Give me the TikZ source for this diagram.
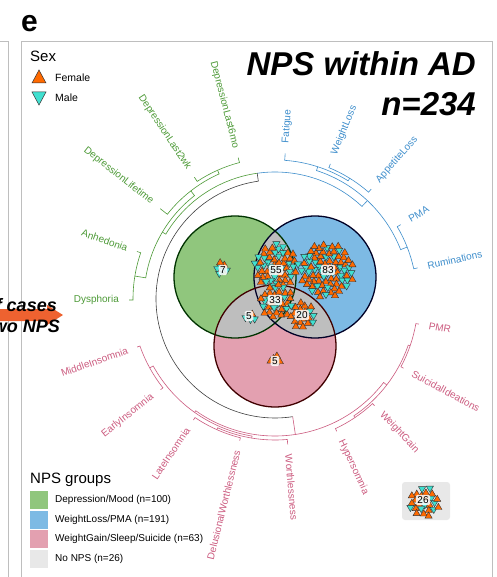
\documentclass[tikz,border=0pt]{standalone}
\usepackage{fontspec}
\setmainfont{Liberation Sans}
\usetikzlibrary{calc}

\definecolor{gtxt}{RGB}{77,154,55}
\definecolor{btxt}{RGB}{62,142,204}
\definecolor{ptxt}{RGB}{204,92,128}
\definecolor{gfill}{RGB}{144,198,125}
\definecolor{bfill}{RGB}{125,186,228}
\definecolor{pfill}{RGB}{227,160,176}
\definecolor{ifill}{RGB}{190,190,190}
\definecolor{nofill}{RGB}{232,232,232}
\definecolor{femc}{RGB}{255,106,0}
\definecolor{malc}{RGB}{64,224,208}
\definecolor{arrc}{RGB}{238,98,48}
\definecolor{framec}{RGB}{190,190,190}

\newcommand{\fs}[1]{\fontsize{#1}{#1}\selectfont}

\tikzset{
  fem/.pic={\draw[fill=femc,draw=black!80,line width=0.4pt] (-3.6,-2.6) -- (3.6,-2.6) -- (0,3.6) -- cycle;},
  mal/.pic={\draw[fill=malc,draw=black!80,line width=0.4pt] (-3.6,2.6) -- (3.6,2.6) -- (0,-3.6) -- cycle;},
  cnt/.style={fill=white,fill opacity=0.85,text opacity=1,rounded corners=1.5pt,inner sep=1.6pt,font=\fs{10}},
  lab/.style={font=\fs{10},inner sep=0pt},
  dend/.style={line width=0.6pt},
}

% triangle cluster: x, y, n, spacing, seed
\newcommand{\tcl}[5]{%
  \foreach \k in {1,...,#3}{%
    \pgfmathsetmacro{\rr}{#4*sqrt(\k-0.5)}%
    \pgfmathsetmacro{\aa}{\k*137.508+#5}%
    \pgfmathtruncatemacro{\sx}{mod(\k*37+mod(\k*\k,17)*11+#5,17)}%
    \ifnum\sx<6
      \pic at ({#1+\rr*cos(\aa)},{#2+\rr*sin(\aa)}) {mal};%
    \else
      \pic at ({#1+\rr*cos(\aa)},{#2+\rr*sin(\aa)}) {fem};%
    \fi
  }}

% merge in circular dendrogram: colour, h, a1, h1, a2, h2
\newcommand{\mrg}[6]{%
  \draw[dend,#1] (#3:#4) -- (#3:#2) arc[start angle=#3, end angle=#5, radius=#2] -- (#5:#6);}
\newcommand{\lbR}[3]{\node[lab,text=#3,rotate=#1,anchor=west] at (#1:156) {#2};}
\newcommand{\lbL}[3]{\node[lab,text=#3,rotate=#1-180,anchor=east] at (#1:156) {#2};}

\begin{document}
\begin{tikzpicture}[x=1pt,y=1pt]
\useasboundingbox (0,0) rectangle (496,-577);
\fill[white] (0,0) rectangle (496,-577);

% panel frames
\draw[framec,line width=0.9pt] (-5,-41) -- (8,-41) -- (8,-600);
\draw[framec,line width=0.9pt] (21,-600) -- (21,-41) -- (492,-41) -- (492,-600);
\node[anchor=base west,inner sep=0,font=\bfseries\fs{30}] (plabel) at (21,-32) {e};

% title
\node[anchor=base east,inner sep=0,font=\bfseries\itshape\fs{33}] (title1) at (476,-76) {NPS within AD};
\node[anchor=base east,inner sep=0,font=\bfseries\itshape\fs{33}] (title2) at (476,-116) {n=234};

% sex legend
\node[anchor=base west,inner sep=0,font=\fs{15}] (sexh) at (30,-62) {Sex};
\draw[fill=femc,draw=black!80,line width=0.5pt] (32,-83) -- (46,-83) -- (39,-70) -- cycle;
\node[anchor=base west,inner sep=0,font=\fs{10.5}] (femlab) at (55,-82) {Female};
\draw[fill=malc,draw=black!80,line width=0.5pt] (32,-92) -- (46,-92) -- (39,-105) -- cycle;
\node[anchor=base west,inner sep=0,font=\fs{10.5}] (mallab) at (55,-102) {Male};

% Venn
\fill[gfill] (235,-277) circle (61);
\fill[bfill] (315,-277) circle (61);
\fill[pfill] (275,-346) circle (61);
\begin{scope}
  \clip (235,-277) circle (61);
  \fill[ifill] (315,-277) circle (61);
  \fill[ifill] (275,-346) circle (61);
\end{scope}
\begin{scope}
  \clip (315,-277) circle (61);
  \fill[ifill] (275,-346) circle (61);
\end{scope}
\draw[line width=1.3pt,draw=green!20!black] (235,-277) circle (61);
\draw[line width=1.3pt,draw=blue!15!black] (315,-277) circle (61);
\draw[line width=1.3pt,draw=red!25!black] (275,-346) circle (61);

% dendrogram
\begin{scope}[shift={(275,-299)}]
  % green
  \mrg{gtxt}{141}{104.6}{146}{123.5}{146}
  \mrg{gtxt}{137}{141.8}{146}{114.05}{141}
  \mrg{gtxt}{142}{161}{146}{180.4}{146}
  \mrg{gtxt}{131}{127.9}{137}{170.7}{142}
  % blue
  \mrg{btxt}{142}{30.6}{146}{12.3}{146}
  \mrg{btxt}{142}{67.7}{146}{48.8}{146}
  \mrg{btxt}{139}{86}{146}{58.25}{142}
  \mrg{btxt}{135}{72.1}{139}{21.45}{142}
  % green + blue
  \draw[dend,gtxt] (149.3:131) -- (149.3:127) arc[start angle=149.3, end angle=98.05, radius=127];
  \draw[dend,btxt] (46.8:135) -- (46.8:127) arc[start angle=46.8, end angle=98.05, radius=127];
  % pink
  \mrg{ptxt}{143}{199.2}{146}{218.4}{146}
  \mrg{ptxt}{143}{236}{146}{256}{146}
  \mrg{ptxt}{141}{246}{143}{275}{146}
  \mrg{ptxt}{139}{208.8}{143}{260.5}{141}
  \mrg{ptxt}{143}{295}{146}{313}{146}
  \mrg{ptxt}{143}{331.7}{146}{350.1}{146}
  \mrg{ptxt}{141}{304}{143}{340.9}{143}
  \mrg{ptxt}{137}{234.65}{139}{322.45}{141}
  % root
  \draw[dend,black!75] (98.05:127) -- (98.05:119) arc[start angle=98.05, end angle=278.55, radius=119];
  \draw[dend,ptxt] (278.55:119) -- (278.55:137);

  % labels
  \lbL{104.6}{DepressionLast6mo}{gtxt}
  \lbL{123.5}{DepressionLast2wk}{gtxt}
  \lbL{141.8}{DepressionLifetime}{gtxt}
  \lbL{161}{Anhedonia}{gtxt}
  \lbL{180.4}{Dysphoria}{gtxt}
  \lbR{86}{Fatigue}{btxt}
  \lbR{67.7}{WeightLoss}{btxt}
  \lbR{48.8}{AppetiteLoss}{btxt}
  \lbR{30.6}{PMA}{btxt}
  \lbR{12.3}{Ruminations}{btxt}
  \lbR{-9.9}{PMR}{ptxt}
  \lbR{-28.3}{SuicidalIdeations}{ptxt}
  \lbR{-47}{WeightGain}{ptxt}
  \lbR{-65}{Hypersomnia}{ptxt}
  \lbR{-85}{Worthlessness}{ptxt}
  \lbL{256}{DelusionalWorthlessness}{ptxt}
  \lbL{236}{LateInsomnia}{ptxt}
  \lbL{218.4}{EarlyInsomnia}{ptxt}
  \lbL{199.2}{MiddleInsomnia}{ptxt}
\end{scope}

% no NPS box
\fill[nofill,rounded corners=3pt] (402,-482) rectangle (450,-520);

% triangle clusters
\tcl{222}{-268}{7}{2.6}{3}
\tcl{276}{-266}{55}{3.0}{1}
\tcl{277}{-301}{33}{3.0}{5}
\tcl{327}{-270}{83}{3.0}{2}
\tcl{303}{-315}{20}{3.0}{7}
\tcl{250}{-317}{5}{2.5}{4}
\tcl{275}{-359}{5}{2.5}{9}
\tcl{424}{-502}{26}{3.0}{6}

\node[cnt] (c7) at (223,-270) {7};
\node[cnt] (c55) at (276,-270) {55};
\node[cnt] (c83) at (328,-270) {83};
\node[cnt] (c33) at (275,-300) {33};
\node[cnt] (c20) at (302,-315) {20};
\node[cnt] (c5a) at (249,-316) {5};
\node[cnt] (c5b) at (275,-361) {5};
\node[cnt] (c26) at (423,-500) {26};

% NPS groups legend
\node[anchor=base west,inner sep=0,font=\fs{15}] (grph) at (30,-483) {NPS groups};
\fill[gfill] (30,-491) rectangle (48,-509);
\fill[bfill] (30,-510.5) rectangle (48,-528.5);
\fill[pfill] (30,-530) rectangle (48,-548);
\fill[nofill] (30,-549.5) rectangle (48,-567.5);
\node[anchor=west,inner sep=0,font=\fs{10}] (g1) at (55,-500) {Depression/Mood (n=100)};
\node[anchor=west,inner sep=0,font=\fs{10}] (g2) at (55,-519.5) {WeightLoss/PMA (n=191)};
\node[anchor=west,inner sep=0,font=\fs{10}] (g3) at (55,-539) {WeightGain/Sleep/Suicide (n=63)};
\node[anchor=west,inner sep=0,font=\fs{10}] (g4) at (55,-558.5) {No NPS (n=26)};

% arrow from previous panel
\fill[arrc] (-5,-309) -- (47,-309) -- (47,-305) -- (63,-315) -- (47,-325) -- (47,-321) -- (-5,-321) -- cycle;
\node[anchor=base east,inner sep=0,font=\bfseries\itshape\fs{18}] (arrt1) at (57,-311) {of cases};
\node[anchor=base east,inner sep=0,font=\bfseries\itshape\fs{18}] (arrt2) at (60,-332) {two NPS};
\end{tikzpicture}
\end{document}
